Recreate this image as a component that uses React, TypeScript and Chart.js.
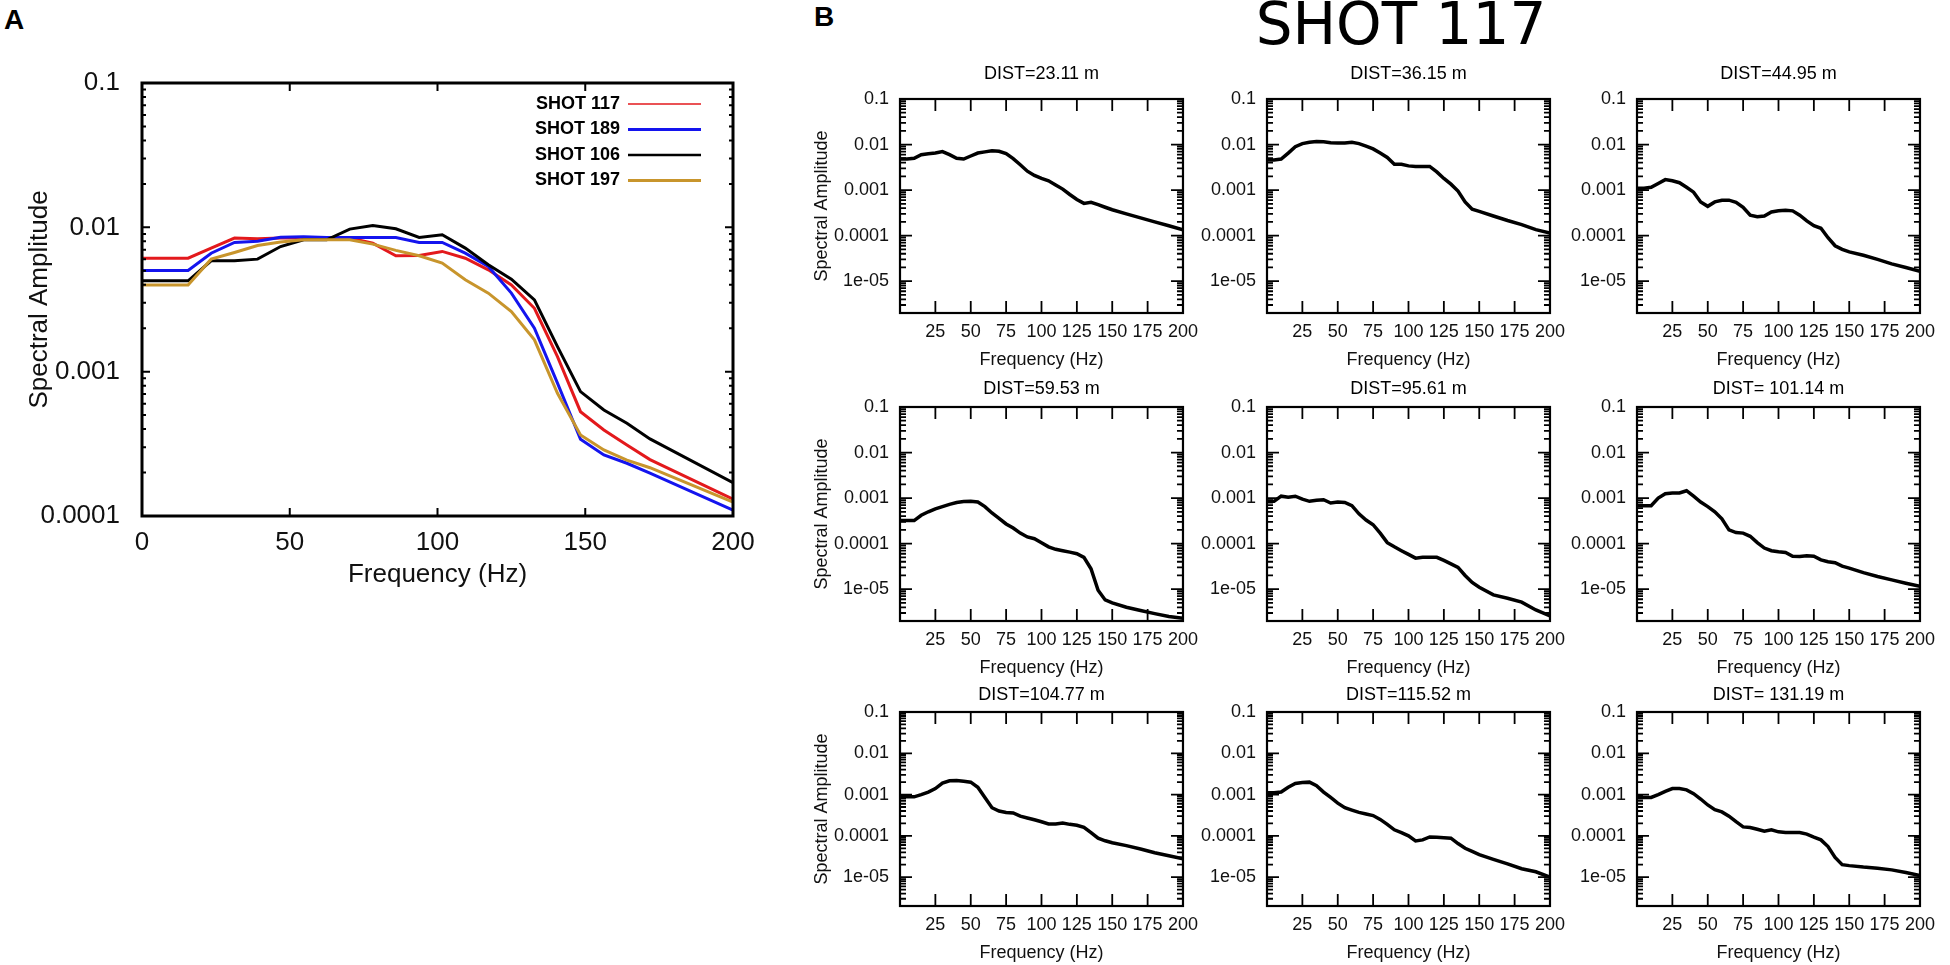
import React, { useEffect, useRef } from "react";
import { Chart, registerables } from "chart.js";

Chart.register(...registerables);

// ---------------- Panel A data ----------------
const freqA = [0, 7.8, 15.6, 23.4, 31.3, 39.1, 46.9, 54.7, 62.5, 70.3, 78.1, 85.9, 93.8, 101.6, 109.4, 117.2, 125, 132.8, 140.6, 148.4, 156.3, 164.1, 171.9, 200];
const shot117 = [0.00611, 0.00611, 0.00611, 0.00718, 0.00842, 0.00835, 0.00842, 0.00845, 0.00842, 0.00842, 0.00776, 0.00635, 0.00638, 0.00681, 0.00611, 0.00508, 0.00399, 0.00275, 0.00127, 0.000528, 0.000394, 0.00031, 0.000246, 0.000131];
const shot189 = [0.00502, 0.00502, 0.00502, 0.00662, 0.00785, 0.0080, 0.00855, 0.0086, 0.0085, 0.0085, 0.0085, 0.0085, 0.00785, 0.00785, 0.00662, 0.00536, 0.0035, 0.0020, 0.000832, 0.00034, 0.000265, 0.000232, 0.000198, 0.00011];
const shot106 = [0.00426, 0.00426, 0.00426, 0.00586, 0.00586, 0.00602, 0.00736, 0.0082, 0.0082, 0.00972, 0.0103, 0.00977, 0.00851, 0.00888, 0.00718, 0.0055, 0.00437, 0.00314, 0.00149, 0.000728, 0.000543, 0.000439, 0.000342, 0.00017];
const shot197 = [0.00399, 0.00399, 0.00399, 0.00602, 0.0067, 0.00749, 0.0079, 0.0082, 0.0082, 0.0082, 0.00765, 0.00692, 0.00635, 0.00565, 0.00433, 0.0035, 0.00261, 0.00166, 0.000708, 0.000364, 0.000287, 0.000244, 0.000216, 0.000125];
const seriesLabelsA = ["SHOT 117", "SHOT 189", "SHOT 106", "SHOT 197"];
const xTicksA = [0, 50, 100, 150, 200];
const yTicksA = [0.0001, 0.001, 0.01, 0.1];
const yTickLabelsA = ["0.0001", "0.001", "0.01", "0.1"];

// ---------------- Panel B data ----------------
const freqB = [0, 5, 10, 15, 20, 25, 30, 35, 40, 45, 50, 55, 60, 65, 70, 75, 80, 85, 90, 95, 100, 105, 110, 115, 120, 125, 130, 135, 140, 145, 150, 160, 170, 180, 190, 200];
const amp2311 = [4.8e-3, 4.8e-3, 5.0e-3, 6.0e-3, 6.3e-3, 6.5e-3, 7.0e-3, 6.0e-3, 5.0e-3, 4.8e-3, 5.6e-3, 6.5e-3, 6.9e-3, 7.3e-3, 7.1e-3, 6.3e-3, 4.9e-3, 3.6e-3, 2.6e-3, 2.1e-3, 1.8e-3, 1.6e-3, 1.3e-3, 1.05e-3, 8.0e-4, 6.2e-4, 5.1e-4, 5.4e-4, 4.8e-4, 4.2e-4, 3.7e-4, 3.0e-4, 2.45e-4, 2.0e-4, 1.65e-4, 1.35e-4];
const amp3615 = [4.6e-3, 4.6e-3, 4.8e-3, 6.5e-3, 9.0e-3, 1.05e-2, 1.12e-2, 1.17e-2, 1.15e-2, 1.1e-2, 1.08e-2, 1.08e-2, 1.12e-2, 1.05e-2, 9.2e-3, 8.0e-3, 6.5e-3, 5.2e-3, 3.7e-3, 3.7e-3, 3.4e-3, 3.3e-3, 3.3e-3, 3.3e-3, 2.5e-3, 1.8e-3, 1.35e-3, 9.5e-4, 5.5e-4, 3.8e-4, 3.4e-4, 2.7e-4, 2.15e-4, 1.75e-4, 1.35e-4, 1.14e-4];
const amp4495 = [1.1e-3, 1.1e-3, 1.15e-3, 1.4e-3, 1.7e-3, 1.6e-3, 1.45e-3, 1.15e-3, 9.0e-4, 5.5e-4, 4.4e-4, 5.5e-4, 6.0e-4, 6.0e-4, 5.4e-4, 4.2e-4, 2.8e-4, 2.6e-4, 2.7e-4, 3.3e-4, 3.5e-4, 3.6e-4, 3.5e-4, 2.8e-4, 2.1e-4, 1.65e-4, 1.45e-4, 9.0e-5, 6.0e-5, 5.0e-5, 4.4e-5, 3.7e-5, 3.0e-5, 2.4e-5, 2.0e-5, 1.65e-5];
const amp5953 = [3.2e-4, 3.2e-4, 3.2e-4, 4.2e-4, 5.0e-4, 5.8e-4, 6.5e-4, 7.3e-4, 8.0e-4, 8.4e-4, 8.5e-4, 8.2e-4, 6.5e-4, 4.7e-4, 3.6e-4, 2.7e-4, 2.2e-4, 1.7e-4, 1.4e-4, 1.28e-4, 1.05e-4, 8.5e-5, 7.5e-5, 7.0e-5, 6.5e-5, 6.0e-5, 5.0e-5, 2.8e-5, 9.5e-6, 5.8e-6, 5.0e-6, 4.0e-6, 3.4e-6, 2.9e-6, 2.5e-6, 2.3e-6];
const amp9561 = [8.5e-4, 8.5e-4, 1.1e-3, 1.05e-3, 1.1e-3, 9.5e-4, 8.5e-4, 9.0e-4, 9.2e-4, 7.8e-4, 8.2e-4, 8.0e-4, 6.8e-4, 4.5e-4, 3.3e-4, 2.6e-4, 1.7e-4, 1.05e-4, 8.5e-5, 7.0e-5, 5.8e-5, 4.8e-5, 5.0e-5, 5.0e-5, 5.0e-5, 4.3e-5, 3.6e-5, 3.0e-5, 2.0e-5, 1.4e-5, 1.1e-5, 7.5e-6, 6.3e-6, 5.2e-6, 3.5e-6, 2.6e-6];
const amp10114 = [6.8e-4, 6.8e-4, 6.8e-4, 1.0e-3, 1.25e-3, 1.3e-3, 1.3e-3, 1.45e-3, 1.1e-3, 8.2e-4, 6.5e-4, 5.0e-4, 3.5e-4, 2.0e-4, 1.75e-4, 1.7e-4, 1.45e-4, 1.05e-4, 8.0e-5, 7.0e-5, 6.6e-5, 6.4e-5, 5.3e-5, 5.2e-5, 5.4e-5, 5.3e-5, 4.4e-5, 4.0e-5, 3.8e-5, 3.2e-5, 2.9e-5, 2.3e-5, 1.9e-5, 1.6e-5, 1.35e-5, 1.15e-5];
const amp10477 = [8.8e-4, 8.8e-4, 8.8e-4, 1.0e-3, 1.15e-3, 1.4e-3, 1.9e-3, 2.15e-3, 2.2e-3, 2.1e-3, 2.0e-3, 1.5e-3, 8.5e-4, 4.8e-4, 4.0e-4, 3.7e-4, 3.6e-4, 3.0e-4, 2.7e-4, 2.45e-4, 2.2e-4, 1.95e-4, 1.95e-4, 2.05e-4, 1.9e-4, 1.8e-4, 1.6e-4, 1.2e-4, 8.8e-5, 7.6e-5, 6.8e-5, 5.8e-5, 4.8e-5, 3.9e-5, 3.3e-5, 2.8e-5];
const amp11552 = [1.1e-3, 1.1e-3, 1.15e-3, 1.5e-3, 1.85e-3, 1.95e-3, 2.0e-3, 1.65e-3, 1.15e-3, 8.5e-4, 6.2e-4, 4.8e-4, 4.2e-4, 3.7e-4, 3.4e-4, 3.1e-4, 2.5e-4, 1.9e-4, 1.4e-4, 1.2e-4, 1.0e-4, 7.5e-5, 8.0e-5, 9.4e-5, 9.2e-5, 9.0e-5, 8.8e-5, 6.5e-5, 5.0e-5, 4.2e-5, 3.5e-5, 2.7e-5, 2.1e-5, 1.6e-5, 1.35e-5, 1.0e-5];
const amp13119 = [8.5e-4, 8.5e-4, 8.5e-4, 1.0e-3, 1.2e-3, 1.4e-3, 1.4e-3, 1.3e-3, 1.05e-3, 7.8e-4, 5.6e-4, 4.3e-4, 3.8e-4, 3.0e-4, 2.2e-4, 1.65e-4, 1.6e-4, 1.45e-4, 1.3e-4, 1.4e-4, 1.25e-4, 1.2e-4, 1.2e-4, 1.2e-4, 1.1e-4, 9.3e-5, 8.0e-5, 5.5e-5, 3.0e-5, 2.0e-5, 1.9e-5, 1.75e-5, 1.65e-5, 1.5e-5, 1.3e-5, 1.1e-5];
const distTitles = ["DIST=23.11 m", "DIST=36.15 m", "DIST=44.95 m", "DIST=59.53 m", "DIST=95.61 m", "DIST= 101.14 m", "DIST=104.77 m", "DIST=115.52 m", "DIST= 131.19 m"];
const xTicksB = [25, 50, 75, 100, 125, 150, 175, 200];
const yTicksB = [1e-5, 1e-4, 1e-3, 1e-2, 1e-1];
const yTickLabelsB = ["1e-05", "0.0001", "0.001", "0.01", "0.1"];
const subSeries = [amp2311, amp3615, amp4495, amp5953, amp9561, amp10114, amp10477, amp11552, amp13119];

// ---------------- styles / layout ----------------
const SANS = "'Liberation Sans', Arial, Helvetica, sans-serif";
const colorsA = ["#e3191c", "#1414ee", "#000000", "#c8952c"];
const legendWidthsA = [1.4, 2.8, 2.6, 3.2];
const layoutA = { left: 0, top: 0, width: 790, height: 620, plotTop: 83, yAxisW: 142, xAxisH: 104, padRight: 57 };
const layoutB = { lefts: [900, 1267, 1637], plotW: 286, tops: [99, 407, 712], heights: [214, 214, 194], titleY: [74, 389, 695], axisW: 110, axisH: 60, padTop: 40, padRight: 20 };

const gpFrame = {
  id: "gpFrame",
  afterDatasetsDraw(chart: any, _args: any, opts: any) {
    const { ctx, chartArea: a, scales } = chart;
    const xs = scales.x;
    const ys = scales.y;
    ctx.save();
    ctx.strokeStyle = "#000";
    ctx.lineWidth = opts.tickWidth;
    ctx.beginPath();
    for (const t of xs.ticks) {
      const px = xs.getPixelForValue(t.value);
      if (px <= a.left + 1 || px >= a.right - 1) continue;
      ctx.moveTo(px, a.bottom);
      ctx.lineTo(px, a.bottom - opts.major);
      ctx.moveTo(px, a.top);
      ctx.lineTo(px, a.top + opts.major);
    }
    const lo = Math.floor(Math.log10(ys.min));
    const hi = Math.ceil(Math.log10(ys.max));
    for (let k = lo; k <= hi; k++) {
      for (let m = 1; m <= 9; m++) {
        const v = m * Math.pow(10, k);
        if (v < ys.min * 0.999 || v > ys.max * 1.001) continue;
        const py = ys.getPixelForValue(v);
        const len = m === 1 ? opts.major : opts.minor;
        ctx.moveTo(a.left, py);
        ctx.lineTo(a.left + len, py);
        ctx.moveTo(a.right, py);
        ctx.lineTo(a.right - len, py);
      }
    }
    ctx.stroke();
    ctx.lineWidth = opts.frameWidth;
    ctx.strokeRect(a.left, a.top, a.right - a.left, a.bottom - a.top);
    ctx.restore();
  },
};

const insideLegend = {
  id: "insideLegend",
  afterDatasetsDraw(chart: any, _args: any, opts: any) {
    const { ctx, chartArea: a } = chart;
    ctx.save();
    ctx.font = opts.font;
    ctx.textAlign = "right";
    ctx.textBaseline = "middle";
    ctx.fillStyle = "#000";
    chart.data.datasets.forEach((ds: any, i: number) => {
      const y = a.top + opts.top + i * opts.spacing;
      ctx.fillText(ds.label, a.right - opts.textRight, y);
      ctx.strokeStyle = ds.borderColor;
      ctx.lineWidth = ds.legendWidth;
      ctx.beginPath();
      ctx.moveTo(a.right - opts.lineStart, y);
      ctx.lineTo(a.right - opts.lineEnd, y);
      ctx.stroke();
    });
    ctx.restore();
  },
};

const subTitle = {
  id: "subTitle",
  afterDraw(chart: any, _args: any, opts: any) {
    const { ctx, chartArea: a } = chart;
    ctx.save();
    ctx.font = opts.font;
    ctx.fillStyle = "#000";
    ctx.textAlign = "center";
    ctx.textBaseline = "middle";
    ctx.fillText(opts.text, (a.left + a.right) / 2, a.top - opts.offset);
    ctx.restore();
  },
};

function configA(): any {
  const all = [shot117, shot189, shot106, shot197];
  return {
    type: "line",
    data: {
      datasets: all.map((vals, i) => ({
        label: seriesLabelsA[i],
        data: freqA.map((f, j) => ({ x: f, y: vals[j] })),
        borderColor: colorsA[i],
        borderWidth: 3,
        pointRadius: 0,
        tension: 0,
        fill: false,
        order: all.length - 1 - i,
        legendWidth: legendWidthsA[i],
      })),
    },
    plugins: [gpFrame, insideLegend],
    options: {
      animation: false,
      responsive: false,
      maintainAspectRatio: false,
      events: [],
      layout: { padding: { left: 0, top: layoutA.plotTop, right: layoutA.padRight, bottom: 0 } },
      plugins: {
        legend: { display: false },
        tooltip: { enabled: false },
        title: { display: false },
        gpFrame: { tickWidth: 2, major: 8, minor: 4, frameWidth: 3 },
        insideLegend: { font: `bold 18px ${SANS}`, top: 21, spacing: 25.5, textRight: 113, lineStart: 105, lineEnd: 32 },
      },
      scales: {
        x: {
          type: "linear",
          min: 0,
          max: 200,
          afterBuildTicks: (s: any) => { s.ticks = xTicksA.map((v) => ({ value: v })); },
          afterFit: (s: any) => { s.height = layoutA.xAxisH; },
          grid: { display: false, drawTicks: false },
          border: { display: false },
          ticks: { color: "#111", font: { family: SANS, size: 26 }, padding: 11.4, autoSkip: false, maxRotation: 0, callback: (v: any) => String(v) },
          title: { display: true, text: "Frequency (Hz)", color: "#111", font: { family: SANS, size: 26 }, padding: { top: 0, bottom: 29.4 } },
        },
        y: {
          type: "logarithmic",
          min: 0.0001,
          max: 0.1,
          afterBuildTicks: (s: any) => { s.ticks = yTicksA.map((v) => ({ value: v })); },
          afterFit: (s: any) => { s.width = layoutA.yAxisW; },
          grid: { display: false, drawTicks: false },
          border: { display: false },
          ticks: { color: "#111", font: { family: SANS, size: 26 }, padding: 22, autoSkip: false, callback: (_v: any, i: number) => yTickLabelsA[i] },
          title: { display: true, text: "Spectral Amplitude", color: "#111", font: { family: SANS, size: 26 }, padding: { top: 23.8, bottom: 0 } },
        },
      },
    },
  };
}

function configSub(idx: number): any {
  const col = idx % 3;
  const row = Math.floor(idx / 3);
  const vals = subSeries[idx];
  return {
    type: "line",
    data: {
      datasets: [
        {
          label: distTitles[idx],
          data: freqB.map((f, j) => ({ x: f, y: vals[j] })),
          borderColor: "#000",
          borderWidth: 3.5,
          pointRadius: 0,
          tension: 0,
          fill: false,
        },
      ],
    },
    plugins: [gpFrame, subTitle],
    options: {
      animation: false,
      responsive: false,
      maintainAspectRatio: false,
      events: [],
      layout: { padding: { left: 0, top: layoutB.padTop, right: layoutB.padRight, bottom: 0 } },
      plugins: {
        legend: { display: false },
        tooltip: { enabled: false },
        title: { display: false },
        gpFrame: { tickWidth: 1.8, major: 12, minor: 6, frameWidth: 2.2 },
        subTitle: { text: distTitles[idx], font: `18px ${SANS}`, offset: layoutB.tops[row] - layoutB.titleY[row] },
      },
      scales: {
        x: {
          type: "linear",
          min: 0,
          max: 200,
          afterBuildTicks: (s: any) => { s.ticks = xTicksB.map((v) => ({ value: v })); },
          afterFit: (s: any) => { s.height = layoutB.axisH; },
          grid: { display: false, drawTicks: false },
          border: { display: false },
          ticks: { color: "#111", font: { family: SANS, size: 18 }, padding: 8, autoSkip: false, maxRotation: 0, callback: (v: any) => String(v) },
          title: { display: true, text: "Frequency (Hz)", color: "#111", font: { family: SANS, size: 18 }, padding: { top: 0, bottom: 2.2 } },
        },
        y: {
          type: "logarithmic",
          min: 2e-6,
          max: 0.1,
          afterBuildTicks: (s: any) => { s.ticks = yTicksB.map((v) => ({ value: v })); },
          afterFit: (s: any) => { s.width = layoutB.axisW; },
          grid: { display: false, drawTicks: false },
          border: { display: false },
          ticks: { color: "#111", font: { family: SANS, size: 18 }, padding: 11, autoSkip: false, callback: (_v: any, i: number) => yTickLabelsB[i] },
          title: { display: col === 0, text: "Spectral Amplitude", color: "#111", font: { family: SANS, size: 18 }, padding: { top: 21.2, bottom: 0 } },
        },
      },
    },
  };
}

function ChartBox(props: { left: number; top: number; width: number; height: number; make: () => any }) {
  const ref = useRef<HTMLCanvasElement | null>(null);
  useEffect(() => {
    if (!ref.current) return;
    const chart = new Chart(ref.current, props.make());
    return () => chart.destroy();
  }, []);
  return (
    <canvas
      ref={ref}
      width={props.width}
      height={props.height}
      style={{ position: "absolute", left: props.left, top: props.top, width: props.width, height: props.height }}
    />
  );
}

export default function App() {
  const subs = subSeries.map((_, idx) => {
    const col = idx % 3;
    const row = Math.floor(idx / 3);
    const L = layoutB.lefts[col];
    const T = layoutB.tops[row];
    const H = layoutB.heights[row];
    return (
      <ChartBox
        key={idx}
        left={L - layoutB.axisW}
        top={T - layoutB.padTop}
        width={layoutB.axisW + layoutB.plotW + layoutB.padRight}
        height={layoutB.padTop + H + layoutB.axisH}
        make={() => configSub(idx)}
      />
    );
  });
  return (
    <div style={{ position: "absolute", left: 0, top: 0, width: 1950, height: 965, background: "#fff", overflow: "hidden" }}>
      <div style={{ position: "absolute", left: 4, top: 6, fontFamily: SANS, fontWeight: "bold", fontSize: 28, lineHeight: 1, color: "#000" }}>A</div>
      <div style={{ position: "absolute", left: 814, top: 3, fontFamily: SANS, fontWeight: "bold", fontSize: 28, lineHeight: 1, color: "#000" }}>B</div>
      <div style={{ position: "absolute", left: 1401, top: -5, transform: "translateX(-50%)", whiteSpace: "nowrap", fontFamily: "'DejaVu Sans', sans-serif", fontSize: 58, lineHeight: 1, color: "#000" }}>SHOT 117</div>
      <ChartBox left={layoutA.left} top={layoutA.top} width={layoutA.width} height={layoutA.height} make={configA} />
      {subs}
    </div>
  );
}
